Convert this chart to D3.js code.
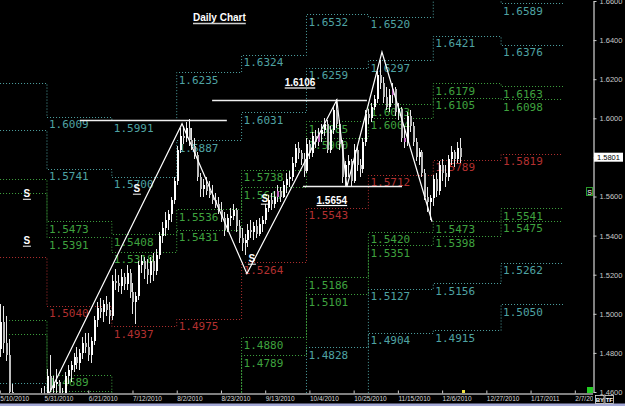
<!DOCTYPE html>
<html>
<head>
<meta charset="utf-8">
<script src="https://cdn.jsdelivr.net/npm/d3@7"></script>
<style>
html, body { margin: 0; padding: 0; background: #000; }
svg { display: block; }
</style>
</head>
<body>
<svg id="chart" width="625" height="406"></svg>
<script>
// bars are one per weekday, counted from this Monday
const firstDay = "2010-05-10";

// daily bars: open, high, low, close
const barsMay = [
  [1.4820,1.5050,1.4780,1.4960],[1.4960,1.5040,1.4800,1.4850],[1.4850,1.4990,1.4760,1.4790],
  [1.4790,1.4870,1.4560,1.4600],[1.4600,1.4640,1.4450,1.4480],[1.4480,1.4560,1.4400,1.4460],
  [1.4460,1.4520,1.4360,1.4380],[1.4380,1.4450,1.4280,1.4400],[1.4400,1.4480,1.4230,1.4370],
  [1.4370,1.4500,1.4330,1.4440],[1.4440,1.4490,1.4380,1.4400],[1.4400,1.4460,1.4250,1.4410],
  [1.4410,1.4500,1.4340,1.4450],[1.4450,1.4590,1.4410,1.4560],[1.4560,1.4620,1.4490,1.4520],
  [1.4520,1.4630,1.4500,1.4550]
];
const barsJun = [
  [1.4550,1.4720,1.4480,1.4680],[1.4680,1.4790,1.4600,1.4620],[1.4620,1.4680,1.4560,1.4640],
  [1.4640,1.4720,1.4590,1.4650],[1.4650,1.4660,1.4480,1.4500],[1.4500,1.4620,1.4450,1.4590],
  [1.4590,1.4700,1.4560,1.4680],[1.4680,1.4740,1.4640,1.4710],[1.4710,1.4760,1.4650,1.4740],
  [1.4740,1.4800,1.4700,1.4780],[1.4780,1.4830,1.4720,1.4750],[1.4750,1.4820,1.4710,1.4800],
  [1.4800,1.4880,1.4770,1.4850],[1.4850,1.4900,1.4800,1.4830],[1.4830,1.4900,1.4760,1.4790],
  [1.4790,1.4880,1.4750,1.4860],[1.4860,1.4990,1.4840,1.4970],[1.4970,1.5060,1.4930,1.5030],
  [1.5030,1.5080,1.4980,1.5010],[1.5010,1.5070,1.4960,1.5050],[1.5050,1.5090,1.4990,1.5020],
  [1.5020,1.5060,1.4950,1.4990]
];
const barsJul = [
  [1.4990,1.5200,1.4970,1.5170],[1.5170,1.5230,1.5120,1.5160],[1.5160,1.5200,1.5110,1.5140],
  [1.5140,1.5230,1.5100,1.5190],[1.5190,1.5210,1.5120,1.5150],[1.5150,1.5250,1.5120,1.5210],
  [1.5210,1.5230,1.5080,1.5110],[1.5110,1.5160,1.5000,1.5060],[1.5060,1.5110,1.4950,1.5090],
  [1.5090,1.5270,1.5070,1.5250],[1.5250,1.5300,1.5210,1.5270],[1.5270,1.5290,1.5180,1.5230],
  [1.5230,1.5280,1.5150,1.5200],[1.5200,1.5290,1.5160,1.5270],[1.5270,1.5310,1.5170,1.5220],
  [1.5220,1.5330,1.5200,1.5300],[1.5300,1.5420,1.5280,1.5400],[1.5400,1.5470,1.5360,1.5440],
  [1.5440,1.5520,1.5400,1.5480],[1.5480,1.5530,1.5430,1.5510],[1.5510,1.5600,1.5470,1.5580],
  [1.5580,1.5700,1.5560,1.5680]
];
const barsAug = [
  [1.5680,1.5860,1.5660,1.5840],[1.5840,1.5950,1.5820,1.5910],[1.5910,1.5960,1.5870,1.5900],
  [1.5900,1.5980,1.5880,1.5950],[1.5950,1.5995,1.5860,1.5890],[1.5890,1.5950,1.5840,1.5860],
  [1.5860,1.5900,1.5790,1.5810],[1.5810,1.5830,1.5680,1.5700],[1.5700,1.5720,1.5600,1.5640],
  [1.5640,1.5690,1.5600,1.5660],[1.5660,1.5700,1.5610,1.5630],[1.5630,1.5680,1.5590,1.5610],
  [1.5610,1.5660,1.5560,1.5580],[1.5580,1.5620,1.5540,1.5560],[1.5560,1.5600,1.5510,1.5530],
  [1.5530,1.5570,1.5470,1.5490],[1.5490,1.5520,1.5400,1.5430],[1.5430,1.5510,1.5420,1.5490],
  [1.5490,1.5540,1.5450,1.5500],[1.5500,1.5560,1.5480,1.5530],[1.5530,1.5540,1.5420,1.5450],
  [1.5450,1.5480,1.5360,1.5390]
];
const barsSep = [
  [1.5390,1.5440,1.5320,1.5360],[1.5360,1.5410,1.5300,1.5380],[1.5380,1.5460,1.5340,1.5430],
  [1.5430,1.5480,1.5390,1.5420],[1.5420,1.5470,1.5380,1.5450],[1.5450,1.5480,1.5390,1.5410],
  [1.5410,1.5490,1.5400,1.5460],[1.5460,1.5500,1.5420,1.5480],[1.5480,1.5560,1.5460,1.5540],
  [1.5540,1.5610,1.5520,1.5580],[1.5580,1.5620,1.5530,1.5560],[1.5560,1.5630,1.5540,1.5600],
  [1.5600,1.5660,1.5570,1.5630],[1.5630,1.5650,1.5570,1.5600],[1.5600,1.5680,1.5590,1.5660],
  [1.5660,1.5720,1.5620,1.5690],[1.5690,1.5730,1.5650,1.5700],[1.5700,1.5800,1.5680,1.5770],
  [1.5770,1.5870,1.5750,1.5850],[1.5850,1.5880,1.5790,1.5820],[1.5820,1.5840,1.5760,1.5790],
  [1.5790,1.5820,1.5700,1.5730]
];
const barsOct = [
  [1.5730,1.5900,1.5720,1.5870],[1.5870,1.5890,1.5790,1.5820],[1.5820,1.5930,1.5800,1.5910],
  [1.5910,1.5940,1.5850,1.5880],[1.5880,1.5950,1.5860,1.5920],[1.5920,1.5970,1.5880,1.5940],
  [1.5940,1.6000,1.5910,1.5970],[1.5970,1.5990,1.5820,1.5840],[1.5840,1.5960,1.5820,1.5940],
  [1.5940,1.6060,1.5920,1.6040],[1.6040,1.6100,1.5950,1.5970],[1.5970,1.5990,1.5840,1.5870],
  [1.5870,1.5890,1.5670,1.5700],[1.5700,1.5780,1.5650,1.5760],[1.5760,1.5810,1.5700,1.5780],
  [1.5780,1.5790,1.5650,1.5680],[1.5680,1.5870,1.5670,1.5840],[1.5840,1.5860,1.5730,1.5760],
  [1.5760,1.5790,1.5700,1.5740],[1.5740,1.5900,1.5720,1.5880],[1.5880,1.6040,1.5860,1.6020]
];
const barsNov = [
  [1.6020,1.6050,1.5970,1.6000],[1.6000,1.6080,1.5980,1.6060],[1.6060,1.6120,1.6040,1.6100],
  [1.6100,1.6240,1.6080,1.6220],[1.6220,1.6300,1.6150,1.6180],[1.6180,1.6210,1.6080,1.6110],
  [1.6110,1.6160,1.6040,1.6060],[1.6060,1.6150,1.6030,1.6120],[1.6120,1.6180,1.6080,1.6150],
  [1.6150,1.6160,1.6010,1.6030],[1.6030,1.6080,1.5990,1.6050],[1.6050,1.6060,1.5880,1.5900],
  [1.5900,1.5960,1.5850,1.5880],[1.5880,1.6030,1.5860,1.6010],[1.6010,1.6040,1.5930,1.5960],
  [1.5960,1.5980,1.5860,1.5880],[1.5880,1.5900,1.5780,1.5800],[1.5800,1.5850,1.5760,1.5830],
  [1.5830,1.5840,1.5700,1.5720],[1.5720,1.5740,1.5580,1.5600],[1.5600,1.5650,1.5520,1.5570],
  [1.5570,1.5610,1.5480,1.5590]
];
const barsDec = [
  [1.5590,1.5710,1.5550,1.5690],[1.5690,1.5720,1.5600,1.5630],[1.5630,1.5780,1.5610,1.5760],
  [1.5760,1.5790,1.5680,1.5720],[1.5720,1.5760,1.5650,1.5700],[1.5700,1.5810,1.5680,1.5790],
  [1.5790,1.5860,1.5760,1.5830],[1.5830,1.5840,1.5750,1.5790],[1.5790,1.5880,1.5770,1.5850],
  [1.5850,1.5900,1.5770,1.5801]
];

// bars shown in magenta on the reference
const markedBars = [94, 108, 133, 137];

// monthly pivot periods (the last date closes the final one)
const periodStarts = ["2010-05-03", "2010-06-01", "2010-07-01", "2010-08-02", "2010-09-01",
  "2010-10-01", "2010-11-01", "2010-12-01", "2011-01-03", "2011-02-01"];

// pivot levels per period, top to bottom
const levelT1 = [1.6183, 1.6009, 1.5991, 1.6235, 1.6324, 1.6532, 1.6520, 1.6663, 1.6589];
const levelT2 = [1.5939, 1.5741, 1.5700, 1.5887, 1.6031, 1.6259, 1.6297, 1.6421, 1.6376];
const levelG1 = [1.5690, 1.5473, 1.5408, 1.5536, 1.5738, 1.5985, 1.6073, 1.6179, 1.6163];
const levelG2 = [1.5618, 1.5391, 1.5318, 1.5431, 1.5647, 1.5900, 1.6004, 1.6105, 1.6098];
const levelPivot = [1.5293, 1.5040, 1.4937, 1.4975, 1.5264, 1.5543, 1.5712, 1.5789, 1.5819];
const levelG3 = [1.4968, 1.4689, 1.4556, 1.4519, 1.4880, 1.5186, 1.5420, 1.5473, 1.5541];
const levelG4 = [1.4896, 1.4607, 1.4466, 1.4414, 1.4789, 1.5101, 1.5351, 1.5398, 1.5475];
const levelT3 = [1.4647, 1.4339, 1.4174, 1.4063, 1.4497, 1.4828, 1.5127, 1.5156, 1.5262];
const levelT4 = [1.4403, 1.4071, 1.3883, 1.3715, 1.4204, 1.4554, 1.4904, 1.4915, 1.5050];

// swing line: [bar index, price]
const swings = [[12.3, 1.4455], [61.8, 1.5972], [83.8, 1.5205], [114.3, 1.6094],
  [117.7, 1.5650], [129.6, 1.6339], [146.6, 1.5471]];

// white support / resistance lines
const hLines = [
  { from: 27.2, to: 77.0, price: 1.5990, label: null, at: 0 },
  { from: 72.0, to: 124.5, price: 1.6094, label: "1.6106", at: 101.8 },
  { from: 102.8, to: 136.4, price: 1.5652, label: "1.5654", at: 112.6 }
];

// "S" marks: [bar index, price]
const sMarks = [[9.2, 1.5619], [9.2, 1.5379], [46.5, 1.5645], [89.9, 1.5594], [85.5, 1.5287]];

const dateTicks = ["5/10/2010", "5/31/2010", "6/21/2010", "7/12/2010", "8/2/2010", "8/23/2010",
  "9/13/2010", "10/4/2010", "10/25/2010", "11/15/2010", "12/6/2010", "12/27/2010", "1/17/2011", "2/7/2011"];
const priceTicks = [1.46, 1.48, 1.50, 1.52, 1.54, 1.56, 1.58, 1.60, 1.62, 1.64, 1.66];

const bars = [].concat(barsMay, barsJun, barsJul, barsAug, barsSep, barsOct, barsNov, barsDec);

// weekday count from firstDay
function tradingIndex(d) {
  const f = firstDay.split("-").map(Number);
  const t0 = Date.UTC(f[0], f[1] - 1, f[2]);
  const t = Date.UTC(d.getFullYear(), d.getMonth(), d.getDate());
  const days = Math.round((t - t0) / 86400000);
  const weeks = Math.floor(days / 7);
  return weeks * 5 + Math.min(days - weeks * 7, 5);
}
const parseIso = d3.timeParse("%Y-%m-%d");
const parseUs = d3.timeParse("%m/%d/%Y");

const svg = d3.select("#chart");
svg.append("rect").attr("width", 625).attr("height", 406).attr("fill", "#000");

const x = d3.scaleLinear().domain([0, 201]).range([-0.2, 592.5]);
const y = d3.scaleLinear().domain([1.46, 1.66]).range([392, 1]);

svg.append("defs").append("clipPath").attr("id", "plot")
  .append("rect").attr("x", 0).attr("y", 0).attr("width", 593).attr("height", 393);
svg.select("defs").append("clipPath").attr("id", "dates")
  .append("rect").attr("x", 0).attr("y", 380).attr("width", 593).attr("height", 26);

const plot = svg.append("g").attr("clip-path", "url(#plot)");

// pivot levels as stepped dotted lines
const teal = "#4fa3a3", green = "#3fa33f", red = "#b33030";
const levelRows = [levelT1, levelT2, levelG1, levelG2, levelPivot, levelG3, levelG4, levelT3, levelT4];
const levelColors = [teal, teal, green, green, red, green, green, teal, teal];
const periodIdx = periodStarts.map(s => tradingIndex(parseIso(s)));
const step = d3.line().x(d => x(d[0])).y(d => Math.round(y(d[1])) + 0.5).curve(d3.curveStepAfter);

levelRows.forEach((row, k) => {
  const pts = row.map((v, i) => [periodIdx[i], v]);
  pts.push([periodIdx[row.length], row[row.length - 1]]);
  plot.append("path")
    .attr("d", step(pts))
    .attr("fill", "none")
    .attr("stroke", levelColors[k])
    .attr("stroke-width", 1)
    .attr("stroke-dasharray", "1,2");
  row.forEach((v, i) => {
    // labels only where the period start and the line itself are on the chart
    if (x(periodIdx[i]) < 0 || y(v) < 0 || y(v) > 385) return;
    plot.append("text")
      .attr("x", x(periodIdx[i]) + 2)
      .attr("y", y(v) + 11.5)
      .attr("fill", levelColors[k])
      .attr("font-family", "DejaVu Sans Mono")
      .attr("font-size", 11)
      .text(d3.format(".4f")(v));
  });
});

// candles
const candles = plot.append("g").attr("shape-rendering", "crispEdges");
bars.forEach((b, i) => {
  const cx = Math.round(x(i));
  const up = b[3] >= b[0];
  const fill = markedBars.includes(i) ? "#c46ac4" : (up ? "#ffffff" : "#bdbdbd");
  candles.append("line")
    .attr("x1", cx + 0.5).attr("x2", cx + 0.5)
    .attr("y1", y(b[1])).attr("y2", y(b[2]))
    .attr("stroke", "#e8e8e8").attr("stroke-width", 1);
  const top = y(Math.max(b[0], b[3])), bot = y(Math.min(b[0], b[3]));
  candles.append("rect")
    .attr("x", cx).attr("width", 2)
    .attr("y", top).attr("height", Math.max(1, bot - top))
    .attr("fill", fill);
});

// white horizontal lines and their labels
hLines.forEach((h, i) => {
  const ly = Math.round(y(h.price)) + 0.5;
  plot.append("line")
    .attr("x1", x(h.from)).attr("x2", x(h.to))
    .attr("y1", ly).attr("y2", ly)
    .attr("stroke", "#f0f0f0").attr("stroke-width", 1.3);
  if (h.label) {
    const ty = i === 1 ? ly - 14.5 : ly + 17;
    const t = plot.append("text")
      .attr("x", x(h.at)).attr("y", ty)
      .attr("text-anchor", "middle")
      .attr("fill", "#fff")
      .attr("font-family", "Liberation Sans, Arial")
      .attr("font-weight", "bold")
      .attr("font-size", 10)
      .text(h.label);
    const w = t.node().getComputedTextLength();
    plot.append("line")
      .attr("x1", x(h.at) - w / 2).attr("x2", x(h.at) + w / 2)
      .attr("y1", ty + 2).attr("y2", ty + 2)
      .attr("stroke", "#fff").attr("stroke-width", 1.2);
  }
});

// swing zigzag
plot.append("path")
  .attr("d", d3.line().x(d => x(d[0])).y(d => y(d[1]))(swings))
  .attr("fill", "none")
  .attr("stroke", "#ffffff")
  .attr("stroke-width", 1.2);

// S marks
sMarks.forEach(s => {
  plot.append("text")
    .attr("x", x(s[0])).attr("y", y(s[1]) + 4)
    .attr("text-anchor", "middle")
    .attr("fill", "#fff")
    .attr("font-family", "Liberation Sans, Arial")
    .attr("font-weight", "bold")
    .attr("font-size", 10)
    .text("S");
  plot.append("line")
    .attr("x1", x(s[0]) - 4).attr("x2", x(s[0]) + 4)
    .attr("y1", y(s[1]) + 6.5).attr("y2", y(s[1]) + 6.5)
    .attr("stroke", "#fff").attr("stroke-width", 1);
});

// title
const title = svg.append("text")
  .attr("x", 193).attr("y", 21)
  .attr("fill", "#fff")
  .attr("font-family", "Liberation Sans, Arial")
  .attr("font-weight", "bold")
  .attr("font-size", 10)
  .text("Daily Chart");
svg.append("line")
  .attr("x1", 193).attr("x2", 193 + title.node().getComputedTextLength())
  .attr("y1", 23.5).attr("y2", 23.5)
  .attr("stroke", "#d0d0d0").attr("stroke-width", 1.5);

// date axis
const dateIdx = dateTicks.map(s => tradingIndex(parseUs(s)));
const xAxis = svg.append("g")
  .attr("clip-path", "url(#dates)")
  .append("g")
  .attr("transform", "translate(0,393.5)")
  .call(d3.axisBottom(x).tickValues(dateIdx).tickFormat((d, i) => dateTicks[i]).tickSize(-3).tickSizeOuter(0));
xAxis.select(".domain").attr("stroke", "#fff");
xAxis.selectAll(".tick line").attr("stroke", "#ccc");
xAxis.selectAll(".tick text")
  .attr("text-anchor", "start")
  .attr("x", 0).attr("y", 2.5).attr("dy", "0.71em")
  .attr("fill", "#d8d8d8")
  .attr("font-family", "Liberation Sans, Arial")
  .attr("font-size", 6.5);

// price axis
const last = bars[bars.length - 1][3];
const yAxis = svg.append("g")
  .attr("transform", "translate(593.5,0)")
  .call(d3.axisRight(y).tickValues(priceTicks).tickFormat(d3.format(".4f")).tickSize(3).tickPadding(3).tickSizeOuter(0));
yAxis.select(".domain").attr("stroke", "#fff");
yAxis.selectAll(".tick line").attr("stroke", "#ccc");
yAxis.selectAll(".tick text")
  .attr("fill", "#c8c8c8")
  .attr("font-family", "Liberation Sans, Arial")
  .attr("font-size", 7.5)
  .attr("display", d => Math.abs(y(d) - y(last)) < 8 ? "none" : null); // hidden under the price box

// current price box
svg.append("rect")
  .attr("x", 594).attr("y", y(last) - 4.5)
  .attr("width", 29).attr("height", 9)
  .attr("fill", "#fff");
svg.append("text")
  .attr("x", 608.5).attr("y", y(last) + 3)
  .attr("text-anchor", "middle")
  .attr("fill", "#000")
  .attr("font-family", "Liberation Sans, Arial")
  .attr("font-size", 7.5)
  .text(d3.format(".4f")(last));

// current bar marker on the date axis
svg.append("rect")
  .attr("x", Math.round(x(bars.length)) - 1).attr("y", 390)
  .attr("width", 3).attr("height", 3)
  .attr("fill", "#f0e040");

// small chrome items
svg.append("rect").attr("x", 587).attr("y", 387).attr("width", 6).attr("height", 6).attr("fill", "#22cc22");
svg.append("rect").attr("x", 586.5).attr("y", 187.5).attr("width", 6).attr("height", 8)
  .attr("fill", "#000").attr("stroke", "#2a9a2a");
svg.append("text").attr("x", 589.5).attr("y", 194.5).attr("text-anchor", "middle")
  .attr("fill", "#fff").attr("font-family", "Liberation Sans, Arial").attr("font-size", 7).text("S");

svg.append("rect").attr("x", 0).attr("y", 403.5).attr("width", 625).attr("height", 2.5).attr("fill", "#a3a8d6");
["BY", "TF"].forEach((s, i) => {
  svg.append("rect").attr("x", 595.5 + i * 9.5).attr("y", 395.5).attr("width", 8.5).attr("height", 8)
    .attr("fill", "#000").attr("stroke", "#ddd").attr("stroke-width", 0.8);
  svg.append("text").attr("x", 599.8 + i * 9.5).attr("y", 402).attr("text-anchor", "middle")
    .attr("fill", "#fff").attr("font-family", "Liberation Sans, Arial").attr("font-weight", "bold")
    .attr("font-size", 6).text(s);
});
</script>
</body>
</html>
